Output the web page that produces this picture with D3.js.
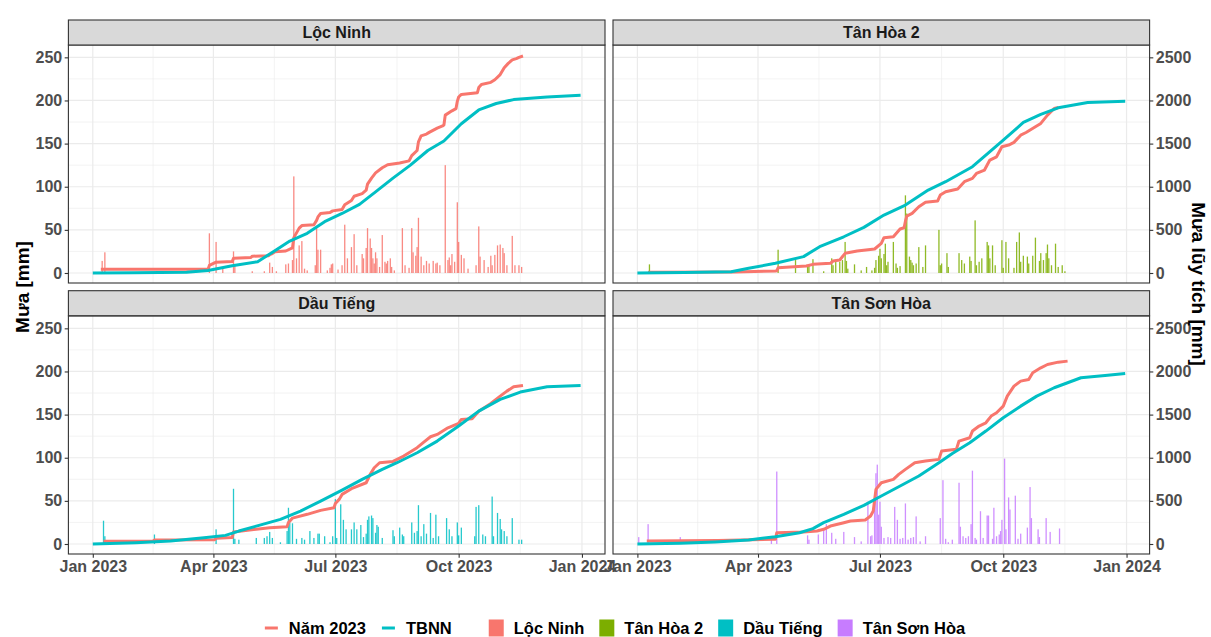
<!DOCTYPE html>
<html>
<head>
<meta charset="utf-8">
<script src="https://cdn.jsdelivr.net/npm/d3@7"></script>
<style>
body{margin:0;background:#fff;}
text{font-family:"Liberation Sans",Arial,sans-serif;font-weight:bold;}
</style>
</head>
<body>
<svg id="chart" width="1211" height="637"></svg>
<script>
// days are counted from 1 Jan 2023 (day 0), values in mm
var stations = ['Lộc Ninh', 'Tân Hòa 2', 'Dầu Tiếng', 'Tân Sơn Hòa'];
var stationColors = ['#F8766D', '#7CAE00', '#00BFC4', '#C77CFF'];
var lineLabels = ['Năm 2023', 'TBNN'];
var lineColors = ['#F8766D', '#00BFC4'];

var yTicksLeft = [0, 50, 100, 150, 200, 250];
var yTicksRight = [0, 500, 1000, 1500, 2000, 2500];
var xTickLabels = ['Jan 2023', 'Apr 2023', 'Jul 2023', 'Oct 2023', 'Jan 2024'];
var xTickDates = ['2023-01-01', '2023-04-01', '2023-07-01', '2023-10-01', '2024-01-01'];

// daily rain 2023 [day, mm]
var rainLocNinh = [[7,14],[9,24],[87,46],[92,36],[97,5],[105,25],[106,9],[119,2],[128,2],[132,12],[134,7],[137,2],[144,10],[146,11],[149,15],[150,112],[152,17],[154,32],[156,37],[158,5],[160,3],[166,9],[167,52],[168,27],[170,27],[175,3],[177,6],[178,10],[179,11],[183,4],[186,9],[188,56],[190,17],[193,30],[195,45],[197,9],[201,22],[202,17],[204,29],[205,52],[207,40],[208,29],[209,17],[210,11],[211,24],[212,17],[214,7],[216,44],[218,13],[219,11],[220,14],[222,17],[223,7],[225,3],[231,52],[233,9],[236,6],[238,52],[239,24],[241,20],[242,30],[243,64],[245,19],[247,9],[249,14],[251,11],[254,14],[256,11],[257,12],[259,9],[263,125],[265,15],[266,18],[267,9],[268,22],[270,13],[272,82],[273,36],[275,21],[277,17],[280,5],[286,9],[288,54],[289,19],[292,15],[295,7],[297,20],[298,9],[300,21],[302,32],[304,33],[306,29],[307,23],[309,9],[313,43],[315,9],[318,9],[320,7]];
var rainTanHoa2 = [[9,10],[105,27],[118,15],[127,7],[128,9],[131,16],[139,2],[145,17],[146,9],[148,13],[151,13],[153,15],[155,36],[156,14],[157,5],[162,10],[167,3],[171,7],[175,3],[177,6],[178,15],[180,20],[181,28],[182,17],[184,22],[185,34],[186,9],[187,13],[191,36],[193,11],[194,6],[196,8],[200,90],[201,69],[203,19],[204,15],[205,12],[206,9],[208,11],[210,30],[213,7],[215,32],[225,50],[226,9],[227,11],[231,23],[232,7],[240,23],[242,15],[244,11],[248,19],[249,14],[252,61],[253,9],[255,13],[257,17],[261,36],[262,32],[263,17],[265,32],[267,9],[272,38],[273,6],[275,36],[277,17],[281,6],[283,36],[285,47],[286,13],[288,20],[291,19],[292,11],[295,20],[297,41],[300,14],[301,23],[303,15],[305,23],[306,33],[307,17],[309,9],[312,34],[314,7],[317,9],[319,2]];
var rainDauTieng = [[8,27],[9,9],[46,11],[92,17],[105,64],[106,6],[109,5],[122,7],[128,7],[130,9],[132,14],[134,7],[140,2],[145,15],[146,42],[147,25],[149,24],[152,6],[156,7],[158,5],[162,15],[165,7],[168,12],[169,12],[173,9],[177,2],[179,9],[181,52],[182,7],[185,46],[187,28],[189,17],[193,17],[195,25],[197,17],[200,22],[202,8],[204,12],[205,28],[206,32],[208,33],[209,30],[211,13],[212,22],[213,20],[216,7],[224,16],[225,9],[229,19],[231,11],[232,9],[238,25],[240,13],[242,15],[243,45],[245,9],[247,23],[249,12],[252,36],[254,7],[256,34],[258,9],[264,30],[266,17],[268,9],[272,25],[273,10],[275,19],[285,9],[286,43],[288,45],[291,11],[293,9],[298,55],[299,9],[302,36],[304,29],[305,17],[307,15],[309,9],[313,30],[318,5],[320,5]];
var rainTanSonHoa = [[1,8],[8,23],[32,8],[100,5],[104,84],[127,10],[128,5],[135,11],[139,16],[141,23],[145,13],[148,6],[154,14],[162,8],[167,3],[172,49],[174,9],[175,10],[177,53],[178,82],[179,92],[180,34],[181,49],[182,20],[184,7],[187,8],[189,7],[192,43],[194,28],[196,6],[198,7],[200,47],[202,5],[204,7],[206,8],[208,32],[211,3],[215,9],[226,30],[228,74],[230,6],[232,2],[235,5],[240,71],[241,20],[243,9],[245,7],[247,9],[249,23],[250,85],[252,7],[253,5],[256,38],[258,7],[261,33],[262,33],[265,6],[266,42],[268,9],[270,11],[271,15],[272,28],[274,99],[275,17],[277,54],[278,40],[282,56],[284,6],[286,12],[291,19],[293,66],[294,30],[299,17],[300,8],[305,30],[308,14],[315,18]];

// accumulated rain 2023 [day, mm]
var cumLocNinh = [[6,42],[86,44],[87,88],[92,125],[104,132],[105,170],[118,180],[119,195],[131,200],[132,212],[134,225],[136,245],[144,255],[149,290],[150,410],[154,520],[156,550],[165,560],[167,610],[168,650],[170,690],[177,700],[179,720],[186,735],[188,790],[193,840],[195,890],[201,920],[204,960],[205,1030],[208,1100],[211,1160],[216,1220],[220,1255],[229,1275],[236,1300],[238,1360],[242,1420],[243,1520],[245,1590],[249,1610],[251,1630],[257,1680],[261,1705],[262,1715],[263,1830],[268,1880],[271,1905],[272,1990],[273,2040],[275,2070],[287,2090],[288,2150],[290,2185],[297,2210],[300,2240],[304,2300],[307,2380],[310,2430],[313,2470],[316,2485],[318,2500],[321,2515]];
var cumTanHoa2 = [[8,10],[73,12],[103,23],[104,25],[105,60],[117,73],[126,81],[131,100],[144,112],[146,139],[151,151],[155,228],[164,255],[177,278],[182,344],[184,409],[191,421],[196,510],[199,525],[200,600],[201,660],[205,691],[210,768],[215,819],[224,834],[226,903],[230,942],[239,973],[244,1058],[250,1097],[253,1154],[259,1193],[263,1309],[268,1347],[272,1463],[277,1483],[281,1514],[286,1598],[290,1629],[297,1695],[301,1734],[306,1830],[311,1907],[314,1919]];
var cumDauTieng = [[8,31],[45,36],[46,46],[91,50],[92,66],[104,75],[105,139],[117,162],[132,189],[145,201],[146,250],[149,300],[160,344],[170,390],[180,421],[181,470],[184,520],[186,575],[193,641],[204,710],[207,807],[210,884],[214,942],[224,957],[232,1019],[242,1116],[247,1181],[252,1243],[257,1270],[265,1347],[273,1398],[275,1444],[283,1452],[288,1540],[297,1629],[304,1714],[309,1772],[314,1822],[321,1838]];
var cumTanSonHoa = [[7,35],[60,40],[101,54],[103,56],[104,131],[124,139],[134,151],[139,170],[144,208],[154,247],[159,266],[170,278],[174,324],[176,382],[178,633],[182,710],[191,749],[195,807],[200,865],[207,942],[215,961],[225,981],[227,1077],[238,1097],[240,1193],[248,1232],[250,1309],[255,1367],[260,1405],[264,1483],[268,1521],[273,1598],[276,1714],[281,1830],[286,1888],[292,1907],[295,1985],[301,2042],[306,2081],[314,2108],[321,2120]];

// long-term average accumulated rain (TBNN) [day, mm]
var tbnnLocNinh = [[0,0],[30,3],[70,10],[86,30],[104,85],[123,130],[137,270],[147,370],[160,460],[173,595],[186,690],[199,795],[211,940],[224,1100],[237,1250],[250,1420],[262,1530],[275,1730],[288,1890],[301,1965],[314,2010],[339,2040],[364,2060]];
var tbnnTanHoa2 = [[0,0],[35,5],[70,15],[83,54],[103,112],[124,190],[136,305],[154,420],[169,529],[184,672],[200,788],[217,961],[230,1058],[250,1232],[260,1367],[273,1540],[288,1745],[301,1838],[314,1915],[336,1977],[364,1992]];
var tbnnDauTieng = [[0,0],[32,15],[58,35],[83,73],[99,100],[109,150],[124,216],[140,286],[155,382],[170,498],[186,625],[201,749],[216,865],[227,942],[242,1058],[257,1193],[273,1367],[288,1540],[304,1676],[319,1761],[339,1822],[364,1838]];
var tbnnTanSonHoa = [[0,0],[32,8],[58,23],[83,46],[103,85],[121,131],[131,178],[139,247],[154,344],[169,448],[182,556],[195,664],[210,788],[225,942],[235,1050],[248,1174],[260,1309],[273,1463],[286,1598],[298,1714],[311,1811],[321,1869],[331,1927],[349,1954],[364,1977]];

var rainData = [rainLocNinh, rainTanHoa2, rainDauTieng, rainTanSonHoa];
var cumData = [cumLocNinh, cumTanHoa2, cumDauTieng, cumTanSonHoa];
var tbnnData = [tbnnLocNinh, tbnnTanHoa2, tbnnDauTieng, tbnnTanSonHoa];

function drawChart(){
	var svg = d3.select('#chart');

	var colX = [68.4, 613],
		panelW = 536.6,
		stripTop = [20, 290.7],
		stripH = 25,
		plotTop = [45, 316],
		plotH = 238;

	var jan1 = new Date(2023, 0, 1);
	var day = (d) => d3.timeDay.offset(jan1, d);
	var lastDay = day(364);
	var pad = 364 * 0.05;

	var x = d3.scaleTime()
		.domain([new Date(jan1.getTime() - pad * 864e5), new Date(lastDay.getTime() + pad * 864e5)])
		.range([0, panelW]);

	var y = d3.scaleLinear()
		.domain([-11.6, 264.3])
		.range([plotH, 0]);

	var yR = y.copy().domain(y.domain().map((v) => v * 10));

	var majorX = xTickDates.map((s) => d3.isoParse(s));
	var minorX = d3.pairs(majorX).map((p) => new Date((p[0].getTime() + p[1].getTime()) / 2));
	var minorY = [25, 75, 125, 175, 225];

	var line = d3.line()
		.x((d) => x(day(d[0])))
		.y((d) => yR(d[1]));

	stations.forEach(function(name, i){
		var col = i % 2, row = Math.floor(i / 2);
		var g = svg.append('g')
			.attr('transform', `translate(${colX[col]},${plotTop[row]})`);

		// strip
		svg.append('rect')
			.attr('x', colX[col]).attr('y', stripTop[row])
			.attr('width', panelW).attr('height', stripH)
			.attr('fill', '#D9D9D9').attr('stroke', '#333333').attr('stroke-width', 1.1);
		svg.append('text')
			.attr('x', colX[col] + panelW / 2).attr('y', stripTop[row] + stripH / 2)
			.attr('dy', '0.36em')
			.attr('text-anchor', 'middle')
			.attr('fill', '#1A1A1A')
			.style('font-size', '16px')
			.text(name);

		// grid
		g.selectAll('.minor-y').data(minorY).enter().append('line')
			.attr('x1', 0).attr('x2', panelW)
			.attr('y1', (d) => y(d)).attr('y2', (d) => y(d))
			.attr('stroke', '#EBEBEB').attr('stroke-width', 0.6);
		g.selectAll('.minor-x').data(minorX).enter().append('line')
			.attr('y1', 0).attr('y2', plotH)
			.attr('x1', (d) => x(d)).attr('x2', (d) => x(d))
			.attr('stroke', '#EBEBEB').attr('stroke-width', 0.6);
		g.selectAll('.major-y').data(yTicksLeft).enter().append('line')
			.attr('x1', 0).attr('x2', panelW)
			.attr('y1', (d) => y(d)).attr('y2', (d) => y(d))
			.attr('stroke', '#EBEBEB').attr('stroke-width', 1.2);
		g.selectAll('.major-x').data(majorX).enter().append('line')
			.attr('y1', 0).attr('y2', plotH)
			.attr('x1', (d) => x(d)).attr('x2', (d) => x(d))
			.attr('stroke', '#EBEBEB').attr('stroke-width', 1.2);

		// daily bars
		g.append('g').selectAll('rect')
			.data(rainData[i])
			.enter()
			.append('rect')
			.attr('x', (d) => x(day(d[0])) - 0.65)
			.attr('width', 1.3)
			.attr('y', (d) => y(d[1]))
			.attr('height', (d) => y(0) - y(d[1]))
			.attr('fill', stationColors[i])
			.attr('opacity', 0.85);

		// accumulated lines
		g.append('path')
			.datum(cumData[i])
			.attr('d', line)
			.attr('fill', 'none')
			.attr('stroke', lineColors[0])
			.attr('stroke-width', 3)
			.attr('stroke-linejoin', 'round');

		g.append('path')
			.datum(tbnnData[i])
			.attr('d', line)
			.attr('fill', 'none')
			.attr('stroke', lineColors[1])
			.attr('stroke-width', 3)
			.attr('stroke-linejoin', 'round');

		g.append('rect')
			.attr('width', panelW).attr('height', plotH)
			.attr('fill', 'none').attr('stroke', '#333333').attr('stroke-width', 1.1);

		// axes
		if(col === 0){
			var ax = g.append('g').call(d3.axisLeft(y).tickValues(yTicksLeft).tickSize(3.7).tickPadding(2.5));
			styleAxis(ax);
		}else{
			var axR = g.append('g')
				.attr('transform', `translate(${panelW},0)`)
				.call(d3.axisRight(yR).tickValues(yTicksRight).tickSize(3.7).tickPadding(2.5)
					.tickFormat(d3.format('d')));
			styleAxis(axR);
		}
		if(row === 1){
			var axB = g.append('g')
				.attr('transform', `translate(0,${plotH})`)
				.call(d3.axisBottom(x).tickValues(majorX).tickSize(3.7).tickPadding(3)
					.tickFormat((d, k) => xTickLabels[k]));
			styleAxis(axB);
		}
	});

	// axis titles
	svg.append('text')
		.attr('transform', 'translate(29,287) rotate(-90)')
		.attr('text-anchor', 'middle')
		.attr('fill', '#000')
		.style('font-size', '19px')
		.text('Mưa [mm]');
	svg.append('text')
		.attr('transform', 'translate(1192,284) rotate(90)')
		.attr('text-anchor', 'middle')
		.attr('fill', '#000')
		.style('font-size', '19px')
		.text('Mưa lũy tích [mm]');

	drawLegend(svg);
}

function styleAxis(ax){
	ax.select('.domain').remove();
	ax.selectAll('.tick line').attr('stroke', '#333333').attr('stroke-width', 1.1);
	ax.selectAll('.tick text')
		.attr('fill', '#4D4D4D')
		.style('font-size', '16px')
		.style('font-family', '"Liberation Sans",Arial,sans-serif')
		.style('font-weight', 'bold');
}

function drawLegend(svg){
	var keyW = 17, keyGap = 9, itemGap = 14, groupGap = 36, cy = 628;
	var lg = svg.append('g');

	var items = lineLabels.map((l, i) => ({label : l, color : lineColors[i], type : 'line'}))
		.concat(stations.map((s, i) => ({label : s, color : stationColors[i], type : 'fill'})));

	var cx = 0;
	items.forEach(function(it, i){
		if(i === lineLabels.length) cx += groupGap - itemGap;
		if(it.type === 'line'){
			lg.append('line')
				.attr('x1', cx + 2).attr('x2', cx + keyW - 2)
				.attr('y1', cy).attr('y2', cy)
				.attr('stroke', it.color).attr('stroke-width', 3);
		}else{
			lg.append('rect')
				.attr('x', cx + 1).attr('y', cy - 8.5)
				.attr('width', keyW - 2).attr('height', 17)
				.attr('fill', it.color);
		}
		var t = lg.append('text')
			.attr('x', cx + keyW + keyGap).attr('y', cy)
			.attr('dy', '0.36em')
			.attr('fill', '#000')
			.style('font-size', '16.5px')
			.text(it.label);
		cx += keyW + keyGap + t.node().getComputedTextLength() + itemGap;
	});
	var total = cx - itemGap;
	lg.attr('transform', `translate(${614 - total / 2},0)`);
}

drawChart();
</script>
</body>
</html>
